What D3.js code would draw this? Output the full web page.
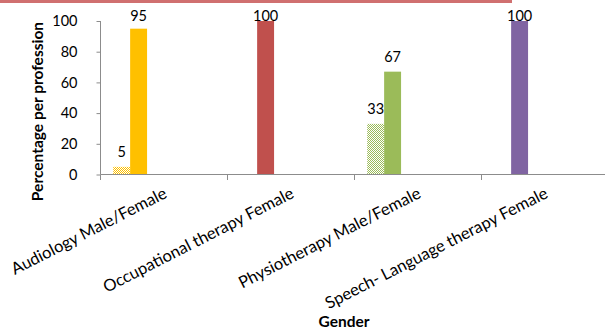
<!DOCTYPE html>
<html>
<head>
<meta charset="utf-8">
<script src="https://cdn.jsdelivr.net/npm/d3@7"></script>
<style>
  html, body { margin: 0; padding: 0; background: #fff; }
  svg { display: block; }
  text { font-family: Lato, "Liberation Sans", sans-serif; fill: #000; }
</style>
</head>
<body>
<div id="chart"></div>
<script>
// Gender split per profession (percent)
const categories = [
  "Audiology Male/Female",
  "Occupational therapy Female",
  "Physiotherapy Male/Female",
  "Speech- Language therapy Female"
];
const maleValues = [5, null, 33, null];
const femaleValues = [95, 100, 67, 100];
const professionColors = ["#FFC000", "#C0504D", "#9BBB59", "#8064A2"];
const yTicks = [0, 20, 40, 60, 80, 100];
const series = ["Male", "Female"];

const W = 605, H = 333;
const svg = d3.select("#chart").append("svg").attr("width", W).attr("height", H);

// top accent rule
svg.append("rect").attr("x", 0).attr("y", 0).attr("width", 512).attr("height", 3).attr("fill", "#d07070");

const x0 = d3.scaleBand().domain(categories).range([100.5, 608.5]).padding(0);
const bw = x0.bandwidth();
// six series slots per cluster with a 150% gap, male/female use the first two
const step = bw / 7.5;
const x1 = d3.scaleBand().domain(series).range([0.75 * step, 2.75 * step]).padding(0);
const y = d3.scaleLinear().domain([0, 100]).range([174.5, 21]);

// hatch patterns for the male bars
const defs = svg.append("defs");
professionColors.forEach((c, i) => {
  const p = defs.append("pattern").attr("id", "hatch" + i)
    .attr("patternUnits", "userSpaceOnUse").attr("width", 2).attr("height", 2);
  p.append("rect").attr("width", 2).attr("height", 2).attr("fill", "#fff");
  p.append("rect").attr("x", 0).attr("y", 0).attr("width", 1).attr("height", 1).attr("fill", c);
  p.append("rect").attr("x", 1).attr("y", 1).attr("width", 1).attr("height", 1).attr("fill", c);
});

const axisColor = "#8c8c8c";

// y axis
const yAxis = svg.append("g").attr("transform", "translate(100.5,0)")
  .call(d3.axisLeft(y).tickValues(yTicks).tickSize(4).tickPadding(19).tickFormat(d3.format("d")));
yAxis.select(".domain").attr("stroke", axisColor).attr("d", "M0,174.5V21");
yAxis.selectAll(".tick line").attr("stroke", axisColor);
yAxis.selectAll(".tick text").attr("font-size", 14.5).attr("font-family", "Lato, sans-serif").attr("fill", "#000");

// bars
const bars = [];
categories.forEach((c, i) => {
  if (maleValues[i] != null) bars.push({ cat: c, s: "Male", v: maleValues[i], i });
  if (femaleValues[i] != null) bars.push({ cat: c, s: "Female", v: femaleValues[i], i });
});
svg.append("g").selectAll("rect").data(bars).join("rect")
  .attr("x", d => x0(d.cat) + x1(d.s))
  .attr("width", x1.bandwidth())
  .attr("y", d => y(d.v))
  .attr("height", d => y(0) - y(d.v))
  .attr("fill", d => d.s === "Male" ? `url(#hatch${d.i})` : professionColors[d.i]);

// value labels
svg.append("g").selectAll("text").data(bars).join("text")
  .attr("x", d => x0(d.cat) + x1(d.s) + x1.bandwidth() / 2)
  .attr("y", d => Math.max(y(d.v) - 10, 20.5))
  .attr("text-anchor", "middle").attr("font-size", 14.5)
  .text(d => d.v);

// x axis
const xg = svg.append("g");
xg.append("line").attr("x1", 100.5).attr("x2", W).attr("y1", 174.5).attr("y2", 174.5).attr("stroke", axisColor);
xg.selectAll("line.tk").data(categories.concat(["end"])).join("line").attr("class", "tk")
  .attr("x1", (d, i) => 100.5 + i * bw).attr("x2", (d, i) => 100.5 + i * bw)
  .attr("y1", 174.5).attr("y2", 180).attr("stroke", axisColor);
xg.selectAll("text").data(categories).join("text")
  .attr("transform", d => `translate(${x0(d) + bw / 2 + 4},${197}) rotate(-27)`)
  .attr("text-anchor", "end").attr("font-size", 16.5)
  .text(d => d);

// axis titles
svg.append("text").attr("transform", "translate(42.5,111.5) rotate(-90)")
  .attr("text-anchor", "middle").attr("font-size", 15.5).attr("font-weight", "bold")
  .text("Percentage per profession");
svg.append("text").attr("x", 344).attr("y", 326.5)
  .attr("text-anchor", "middle").attr("font-size", 15.5).attr("font-weight", "bold")
  .text("Gender");
</script>
</body>
</html>
